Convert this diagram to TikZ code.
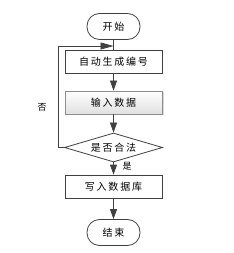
\documentclass[tikz,border=0pt]{standalone}
\usepackage{fontspec}
\setmainfont{Noto Sans CJK SC}[LetterSpace=18]
\usetikzlibrary{shapes.geometric,arrows.meta,shadows}
\begin{document}
\begin{tikzpicture}[x=1pt,y=-1pt,
  line/.style={draw=black!75,line width=0.8pt},
  arr/.style={line,-{Triangle[length=10pt,width=7pt]}},
  term/.style={line,rounded corners=12.5pt,minimum width=53pt,minimum height=26pt,inner sep=0pt,font=\fontsize{10}{12}\selectfont},
  proc/.style={line,minimum width=97pt,minimum height=23pt,inner sep=0pt,font=\fontsize{10}{12}\selectfont},
  dec/.style={line,diamond,aspect=3.3,minimum width=98pt,minimum height=29pt,inner sep=0pt,font=\fontsize{10}{12}\selectfont}]
\useasboundingbox (0,0) rectangle (233,253);
\node[term] (start) at (113.5,26.5) {开始};
\node[proc] (gen) at (113.5,61.5) {自动生成编号};
\node[proc,draw=black!45,top color=white,bottom color=black!12,drop shadow={shadow xshift=1.5pt,shadow yshift=-1.5pt,opacity=0.3}] (input) at (113.5,102.5) {输入数据};
\node[dec] (check) at (113.5,147.5) {是否合法};
\node[proc] (write) at (113.5,186.5) {写入数据库};
\node[term] (end) at (113.5,232.5) {结束};
\coordinate (j) at (113.5,46);
\draw[line] (start) -- (gen);
\draw[arr] (gen) -- (input);
\draw[arr] (input) -- (check);
\draw[arr] (check) -- (write);
\draw[arr] (write) -- (end);
\draw[line,-{Triangle[length=13pt,width=7pt]}] (check.west) -- (58,147.5) -- (58,46) -- (j);
\node[font=\fontsize{9}{11}\selectfont] (no) at (42,107) {否};
\node[font=\fontsize{9}{11}\selectfont] (yes) at (127,166) {是};
\end{tikzpicture}
\end{document}
